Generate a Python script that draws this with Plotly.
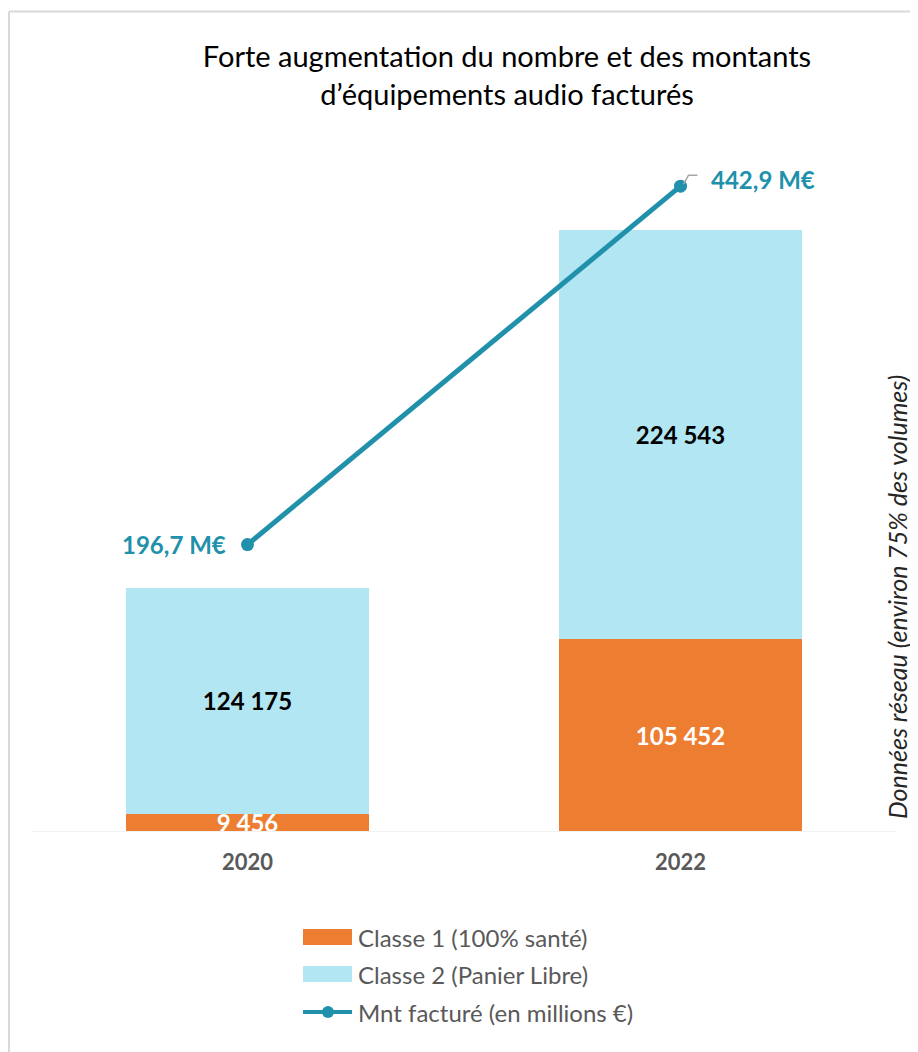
import plotly.graph_objects as go

# ---------------- data ----------------
years = ["2020", "2022"]
classe1 = [9456, 105452]
classe2 = [124175, 224543]
montant = [196.7, 442.9]

series_names = ["Classe 1 (100% santé)", "Classe 2 (Panier Libre)", "Mnt facturé (en millions €)"]
title_text = "Forte augmentation du nombre et des montants<br>d’équipements audio facturés"
side_note = "Données réseau (environ 75% des volumes)"

# ---------------- style ----------------
ORANGE = "#ED7D31"
LIGHTBLUE = "#B2E6F2"
TEAL = "#2191AB"
GREY = "#595959"
FONT = "Lato"

W, H = 918, 1052
OFF = 8                       # page body margin
PW, PH = 866, 728             # plot area size
L, T = 31 - OFF, 103 - OFF    # margins in figure coordinates
R = W - L - PW
B = H - T - PH
BASE = 831                    # screen y of the baseline


def fx(px):  # screen x -> paper
    return (px - 31) / PW


def fy(py):  # screen y -> paper
    return (BASE - py) / PH


def fmt_int(v):
    return f"{v:,}".replace(",", " ")


def fmt_m(v):
    return f"{v:.1f}".replace(".", ",") + " M€"


fig = go.Figure()

fig.add_trace(go.Bar(
    x=years, y=classe1, name=series_names[0],
    marker=dict(color=ORANGE, line=dict(width=0)),
    text=[fmt_int(v) for v in classe1], textposition="inside",
    insidetextanchor="middle", constraintext="none",
    textfont=dict(family=FONT, size=24, color="white", weight="bold"),
    showlegend=False,
))
fig.add_trace(go.Bar(
    x=years, y=classe2, name=series_names[1],
    marker=dict(color=LIGHTBLUE, line=dict(width=0)),
    text=[fmt_int(v) for v in classe2], textposition="inside",
    insidetextanchor="middle", constraintext="none",
    textfont=dict(family=FONT, size=24, color="black", weight="bold"),
    showlegend=False,
))
fig.add_trace(go.Scatter(
    x=years, y=montant, name=series_names[2], yaxis="y2",
    mode="lines+markers",
    line=dict(color=TEAL, width=5),
    marker=dict(color=TEAL, size=13),
    showlegend=False,
))

annotations = []
# line value labels (category axis -> use index positions)
annotations.append(dict(
    x=0, y=montant[0], xref="x", yref="y2", text=fmt_m(montant[0]),
    showarrow=False, xanchor="right", yanchor="middle", xshift=-20,
    font=dict(family=FONT, size=24, color=TEAL, weight="bold"),
))
annotations.append(dict(
    x=1, y=montant[1], xref="x", yref="y2", text=fmt_m(montant[1]),
    showarrow=False, xanchor="left", yanchor="middle", xshift=28, yshift=7,
    font=dict(family=FONT, size=24, color=TEAL, weight="bold"),
))
# side note
annotations.append(dict(
    x=fx(897), y=fy(597), xref="paper", yref="paper", text=side_note,
    textangle=-90, showarrow=False, xanchor="center", yanchor="middle",
    font=dict(family=FONT, size=25, color="#262626", style="italic"),
))

shapes = []
# outer border (left & top visible)
shapes.append(dict(type="line", xref="paper", yref="paper",
                   x0=fx(9), x1=fx(9), y0=fy(11.5), y1=fy(1070),
                   line=dict(color="#D9D9D9", width=2)))
shapes.append(dict(type="line", xref="paper", yref="paper",
                   x0=fx(9), x1=fx(940), y0=fy(11.5), y1=fy(11.5),
                   line=dict(color="#D9D9D9", width=2)))
# leader line for the 2022 amount label
y2scale = PH / 500.0
ly = montant[1]
shapes.append(dict(type="path", xref="x", yref="y2",
                   path=f"M {1 + 3/433:.4f},{ly + 2/y2scale:.3f} L {1 + 8/433:.4f},{ly + 11/y2scale:.3f} L {1 + 17/433:.4f},{ly + 11/y2scale:.3f}",
                   line=dict(color="#A6A6A6", width=1.5)))

# custom legend
leg_y = [937, 974, 1012]
sw_x0, sw_x1, txt_x = 303, 352, 356
for i, col in enumerate([ORANGE, LIGHTBLUE]):
    shapes.append(dict(type="rect", xref="paper", yref="paper",
                       x0=fx(sw_x0), x1=fx(sw_x1), y0=fy(leg_y[i] - 8), y1=fy(leg_y[i] + 8),
                       fillcolor=col, line=dict(width=0)))
shapes.append(dict(type="line", xref="paper", yref="paper",
                   x0=fx(sw_x0), x1=fx(sw_x1), y0=fy(leg_y[2]), y1=fy(leg_y[2]),
                   line=dict(color=TEAL, width=4)))
shapes.append(dict(type="circle", xref="paper", yref="paper",
                   x0=fx(328 - 6), x1=fx(328 + 6), y0=fy(leg_y[2] - 6), y1=fy(leg_y[2] + 6),
                   fillcolor=TEAL, line=dict(width=0)))
for i, nm in enumerate(series_names):
    annotations.append(dict(
        x=fx(txt_x), y=fy(leg_y[i]), xref="paper", yref="paper", text=nm,
        showarrow=False, xanchor="left", yanchor="middle",
        font=dict(family=FONT, size=24, color=GREY),
    ))

fig.update_layout(
    width=W, height=H,
    margin=dict(l=L, r=R, t=T, b=B, pad=0),
    paper_bgcolor="white", plot_bgcolor="white",
    barmode="stack", bargap=0.437,
    title=dict(text=title_text, x=(507 - OFF) / W, xanchor="center", xref="container",
               y=1 - (67 - OFF) / H, yanchor="middle",
               font=dict(family=FONT, size=29, color="black")),
    xaxis=dict(type="category", range=[-0.5, 1.5], showgrid=False,
               showline=True, linecolor="#F2F2F2", linewidth=1,
               ticks="", ticklabelstandoff=12,
               tickfont=dict(family=FONT, size=22, color=GREY, weight="bold")),
    yaxis=dict(range=[0, 400000], visible=False, showgrid=False),
    yaxis2=dict(range=[0, 500], overlaying="y", side="right",
                visible=False, showgrid=False),
    uniformtext=dict(minsize=24, mode="show"),
    annotations=annotations,
    shapes=shapes,
    font=dict(family=FONT),
)

fig.write_html("out.html")
